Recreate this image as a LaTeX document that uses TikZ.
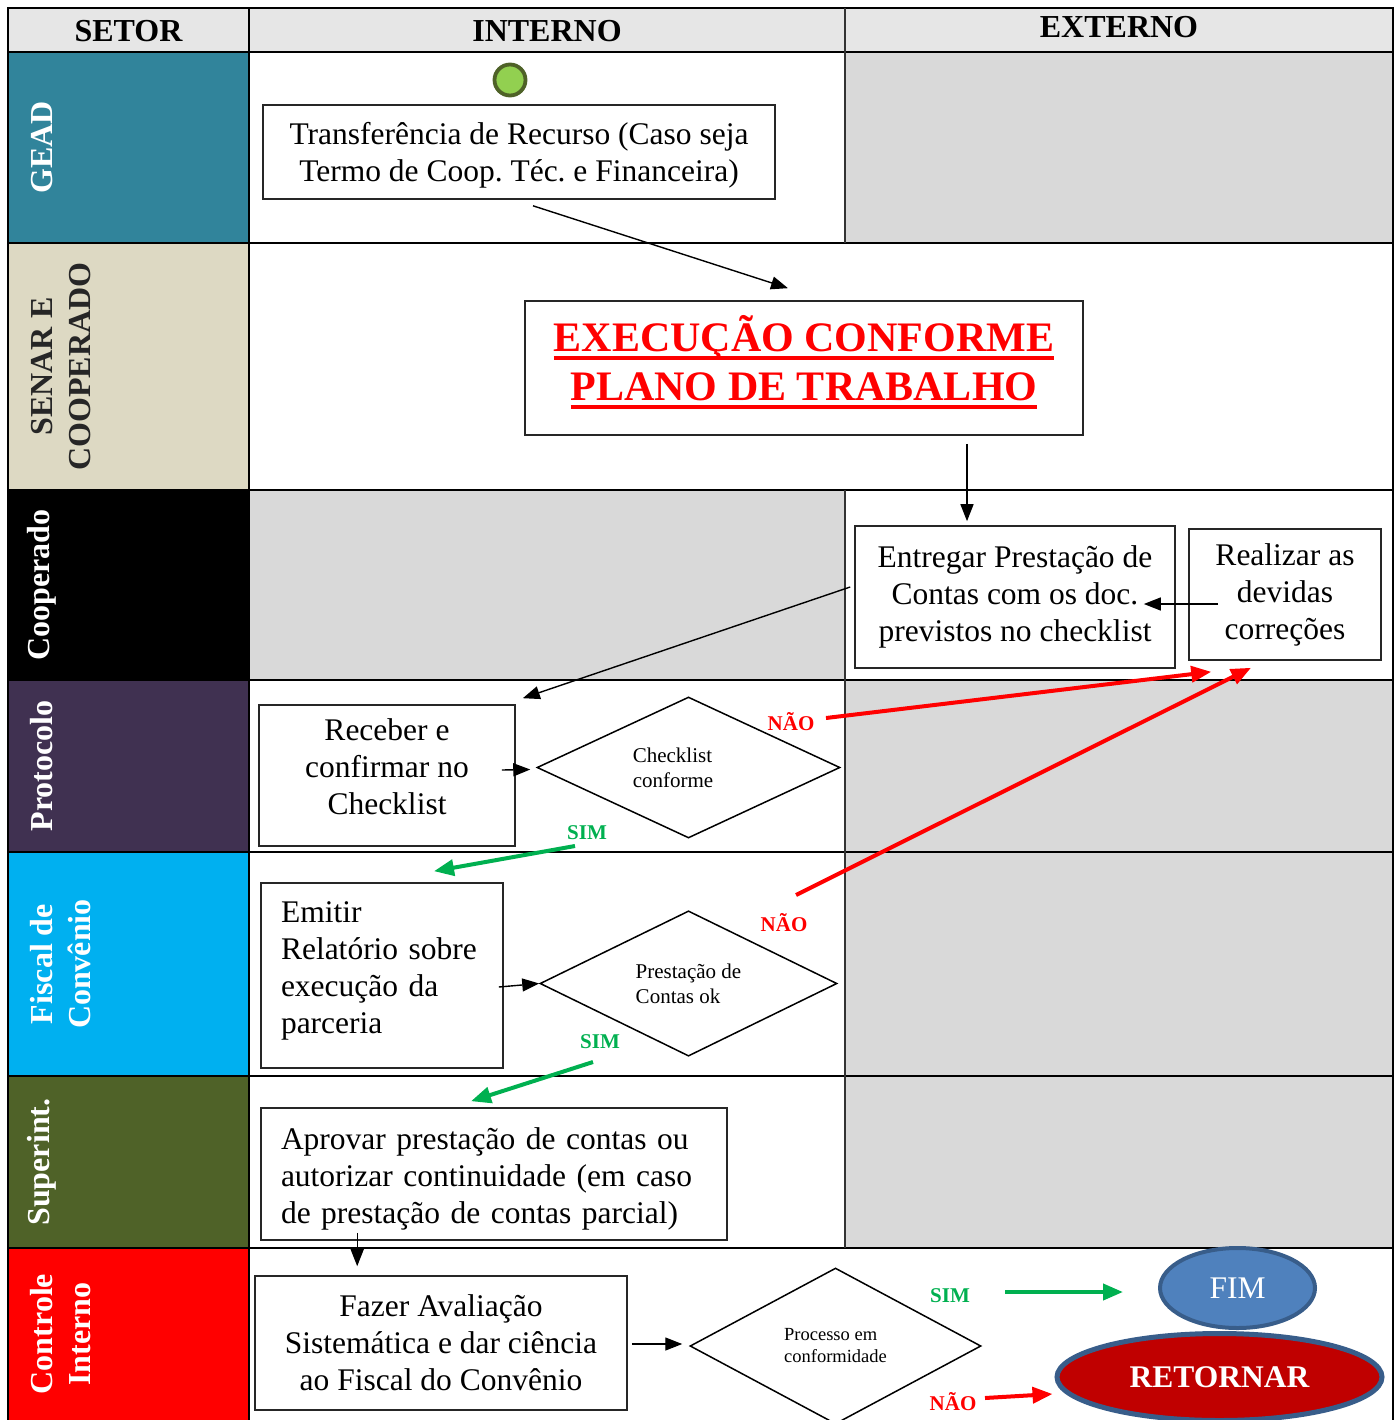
\documentclass[tikz,border=0pt]{standalone}
\usepackage{fontspec}
\setmainfont{Liberation Serif}
\newsavebox\myulbox
\newcommand\myul[1]{\sbox\myulbox{#1}\rlap{\rule[-8pt]{\wd\myulbox}{3.5pt}}\usebox\myulbox}
\usetikzlibrary{arrows.meta,shapes.geometric,calc}
\definecolor{cGEAD}{HTML}{31849B}
\definecolor{cSENAR}{HTML}{DDD9C3}
\definecolor{cPROT}{HTML}{403151}
\definecolor{cFISC}{HTML}{00B0F0}
\definecolor{cSUP}{HTML}{4F6228}
\definecolor{cCTRL}{HTML}{FF0000}
\definecolor{cHead}{HTML}{E6E6E6}
\definecolor{cGray}{HTML}{D9D9D9}
\definecolor{cGreen}{HTML}{00B050}
\definecolor{cStartFill}{HTML}{92D050}
\definecolor{cStartLine}{HTML}{4F6228}
\definecolor{cFim}{HTML}{4F81BD}
\definecolor{cEllLine}{HTML}{385D8A}
\definecolor{cRet}{HTML}{C00000}
\begin{document}
\frenchspacing
\begin{tikzpicture}[x=1pt,y=-1pt,
  tbl/.style={line width=2pt,draw=black},
  pbox/.style={draw=black!85,line width=1.6pt,fill=white,align=center,inner sep=0pt,
    font=\fontsize{31.5}{37}\selectfont},
  dia/.style={draw=black,shape=diamond,line width=1.5pt,fill=white,inner sep=0pt},
  smalltxt/.style={font=\fontsize{21}{25}\selectfont,align=left,inner sep=0pt},
  arr/.style={draw=black,line width=1.4pt,-{Triangle[length=17pt,width=13pt]}},
  garr/.style={draw=cGreen,line width=4pt,-{Triangle[length=20pt,width=16pt]}},
  rarr/.style={draw=red,line width=4pt,-{Triangle[length=20pt,width=16pt]}},
  lane/.style={rotate=90,font=\fontsize{32}{38}\selectfont\bfseries,text=white,align=center,inner sep=0pt},
  hdr/.style={font=\fontsize{32}{36}\selectfont\bfseries,inner sep=0pt},
  nao/.style={font=\fontsize{21}{24}\selectfont\bfseries,text=red,inner sep=0pt},
  sim/.style={font=\fontsize{21}{24}\selectfont\bfseries,text=cGreen,inner sep=0pt}]
\useasboundingbox (0,0) rectangle (1395,1420);
\clip (0,0) rectangle (1395,1420);
\fill[white] (0,0) rectangle (1395,1420);
% fills
\fill[cHead] (8,8) rectangle (1393,52);
\fill[cGEAD] (8,52) rectangle (249,243);
\fill[cSENAR] (8,243) rectangle (249,490);
\fill[black] (8,490) rectangle (249,680);
\fill[cPROT] (8,680) rectangle (249,852);
\fill[cFISC] (8,852) rectangle (249,1076);
\fill[cSUP] (8,1076) rectangle (249,1248);
\fill[cCTRL] (8,1248) rectangle (249,1440);
\fill[cGray] (845,52) rectangle (1393,243);
\fill[cGray] (249,490) rectangle (845,680);
\fill[cGray] (845,680) rectangle (1393,1248);
% grid
\draw[tbl] (8,8) rectangle (1393,1440);
\foreach \yy in {52,243,490,680,852,1076,1248} {\draw[tbl] (8,\yy) -- (1393,\yy);}
\draw[tbl] (249,8) -- (249,1440);
\draw[line width=1.4pt,black!80] (845,8) -- (845,243);
\draw[line width=1.4pt,black!80] (845,490) -- (845,1248);
% headers
\node[hdr] (h1) at (128.5,31) {SETOR};
\node[hdr] (h2) at (547,31) {INTERNO};
\node[hdr] (h3) at (1119,27) {EXTERNO};
% lane labels
\node[lane] (lg) at (42,147.5) {GEAD};
\node[lane,text=black!85] (ls) at (61,366.5) {SENAR E\\COOPERADO};
\node[lane] (lc) at (42,585) {Cooperado};
\node[lane] (lp) at (42,766) {Protocolo};
\node[lane] (lf) at (61,964) {Fiscal de\\Convênio};
\node[lane] (lsu) at (42,1162) {Superint.};
\node[lane] (lct) at (61,1334) {Controle\\Interno};
% start
\node[circle,fill=cStartFill,draw=cStartLine,line width=3.8pt,minimum size=31pt,inner sep=0pt] (start) at (510,80) {};
% boxes
\node[pbox,minimum width=512pt,minimum height=94pt] (b1) at (519,152) {\rule{0pt}{29pt}Transferência de Recurso (Caso seja\\Termo de Coop. Téc. e Financeira)};
\node[pbox,minimum width=558pt,minimum height=134pt,font=\fontsize{42}{49}\selectfont\bfseries,text=red] (b2) at (804,368) {\myul{EXECUÇÃO CONFORME}\\\myul{PLANO DE TRABALHO}\rule[-20pt]{0pt}{1pt}};
\node[pbox,minimum width=320pt,minimum height=142pt] (b3) at (1015,597) {Entregar Prestação de\\Contas com os doc.\\previstos no checklist};
\node[pbox,minimum width=192pt,minimum height=131pt] (b4) at (1285,594.5) {Realizar as\\devidas\\correções};
\node[pbox,minimum width=256pt,minimum height=141pt] (b5) at (387,775.5) {Receber e\\confirmar no\\Checklist\rule[-18pt]{0pt}{1pt}};
\node[dia,minimum width=303pt,minimum height=141pt] (d1) at (688.5,767.5) {};
\node[smalltxt] (d1t) at (673,768) {Checklist\\conforme};
\node[pbox,align=left,text width=202pt,inner xsep=20pt,minimum height=185pt] (b6) at (382,975.5) {Emitir\\Relatório sobre\\execução da\\parceria\rule[-16pt]{0pt}{1pt}};
\node[dia,minimum width=297pt,minimum height=141pt,font=\fontsize{21}{25}\selectfont,align=left] (d2) at (688.5,983.5) {Prestação de\\Contas ok};
\node[pbox,align=left,text width=426pt,inner xsep=20pt,minimum height=132pt] (b7) at (494,1174) {\rule{0pt}{32pt}Aprovar prestação de contas ou\\autorizar continuidade (em caso\\de prestação de contas parcial)};
\node[pbox,minimum width=372pt,minimum height=134pt] (b8) at (441,1343) {Fazer Avaliação\\Sistemática e dar ciência\\ao Fiscal do Convênio};
\node[dia,minimum width=291pt,minimum height=156pt,font=\fontsize{18.5}{22}\selectfont,align=left] (d3) at (835.5,1346) {Processo em\\conformidade};
\node[ellipse,fill=cFim,draw=cEllLine,line width=4pt,minimum width=155pt,minimum height=80pt,inner sep=0pt,text=white,font=\fontsize{31.5}{36}\selectfont] (fim) at (1237.5,1288) {FIM};
\node[ellipse,fill=cRet,draw=cEllLine,line width=5pt,minimum width=325pt,minimum height=87pt,inner sep=0pt,text=white,font=\fontsize{31.5}{36}\selectfont\bfseries] (ret) at (1219.5,1377) {RETORNAR};
% labels
\node[nao] (n1) at (791,722) {NÃO};
\node[sim] (s1) at (587,833) {SIM};
\node[nao] (n2) at (784,923) {NÃO};
\node[sim] (s2) at (600,1042) {SIM};
\node[sim] (s3) at (950,1296) {SIM};
\node[nao] (n3) at (953,1402) {NÃO};
% arrows
\draw[arr] ($(b1.south)+(14,6)$) -- ($(b2.north)+(-16,-12)$);
\draw[arr] ($(b2.south)+(163,8)$) -- ($(b3.north)+(-48,-4)$);
\draw[arr] ($(b4.west)+(30,9.5)$) -- ($(b3.east)+(-32,7)$);
\draw[arr] ($(b3.west)+(-4,-10)$) -- ($(b5.north east)+(7,-6)$);
\draw[arr] ($(b5.east)+(-14,-5.5)$) -- ($(d1.west)+(-6,2)$);
\draw[rarr] ($(n1.center)+(35,-4)$) -- ($(b4.south west)+(23,11)$);
\draw[rarr] ($(n2.center)+(12,-28)$) -- ($(b4.south)+(-34,7)$);
\draw[garr] ($(s1.center)+(-12,13)$) -- ($(b6.north)+(52,-11)$);
\draw[arr] ($(b6.east)+(-5,11.5)$) -- (d2.west);
\draw[garr] ($(s2.center)+(-7,20)$) -- ($(b7.north)+(-23,-6)$);
\draw[arr] ($(b7.south west)+(97,-8)$) -- ($(b8.north west)+(103,-9)$);
\draw[arr] ($(b8.east)+(4,1)$) -- ($(d3.west)+(-7,-2)$);
\draw[garr] ($(s3.center)+(55,-4)$) -- ($(fim.west)+(-35,4)$);
\draw[rarr] ($(n3.center)+(32,-4)$) -- ($(ret.west)+(-2,17)$);
\end{tikzpicture}
\end{document}
